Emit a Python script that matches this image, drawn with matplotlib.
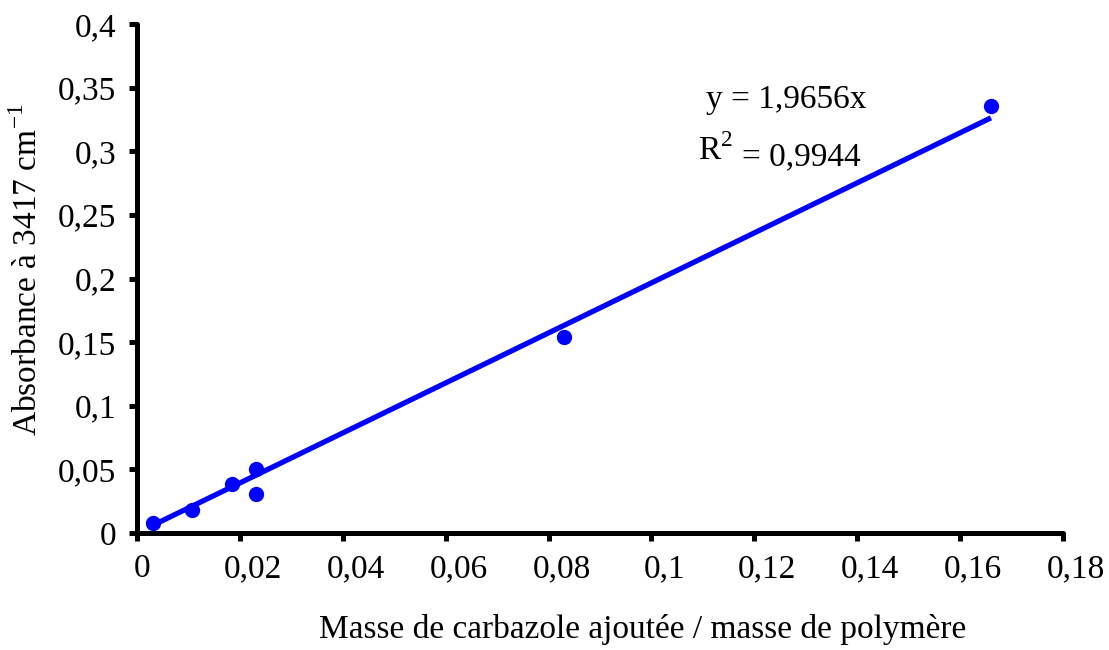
"""
Absorbance at 3417 cm-1 vs. added carbazole mass ratio, with linear fit through origin.
"""

import numpy as np
import matplotlib
matplotlib.use("Agg")
import matplotlib.pyplot as plt
import matplotlib.transforms as mtransforms
from matplotlib.ticker import FuncFormatter, MultipleLocator

plt.rcParams["font.family"] = ["Liberation Serif", "DejaVu Serif"]
plt.rcParams["mathtext.fontset"] = "custom"
plt.rcParams["mathtext.rm"] = "Liberation Serif"

# measured points
mass_ratio = [0.0031, 0.0107, 0.0184, 0.0231, 0.0231, 0.0831, 0.166]
absorbance = [0.0079, 0.018, 0.0385, 0.0503, 0.0306, 0.154, 0.3356]

# linear trendline y = a x
slope = 1.9656
r2 = 0.9944


def comma_fmt(v, pos):
    s = "%g" % round(v, 3)
    return s.replace(".", ",")


fig = plt.figure(figsize=(11.09, 6.5), dpi=100)
ax = fig.add_axes([0.1235, 0.18, 0.835, 0.783])

fit_x = np.array([min(mass_ratio) - 0.001, max(mass_ratio)])
ax.plot(fit_x, slope * fit_x, color="#0000ff", lw=3.8, solid_capstyle="butt", zorder=2)
ax.plot(mass_ratio, absorbance, "o", color="#0000ff", ms=10, zorder=3)

ax.set_xlim(0, 0.18)
ax.set_ylim(0, 0.4)
ax.xaxis.set_major_locator(MultipleLocator(0.02))
ax.yaxis.set_major_locator(MultipleLocator(0.05))
ax.xaxis.set_major_formatter(FuncFormatter(comma_fmt))
ax.yaxis.set_major_formatter(FuncFormatter(comma_fmt))

for side in ["top", "right"]:
    ax.spines[side].set_visible(False)
for side in ["left", "bottom"]:
    ax.spines[side].set_linewidth(3.6)
    ax.spines[side].set_capstyle("round")

ax.tick_params(direction="out", length=6, width=3.6, labelsize=24)
ax.tick_params(axis="y", pad=9)
ax.tick_params(axis="x", pad=9)

# x tick labels sit a bit right of their ticks in the original
fig.canvas.draw()
for lbl in ax.get_xticklabels():
    dx = 0.05 if lbl.get_text() == "0" else 0.13
    shift = mtransforms.ScaledTranslation(dx, 0, fig.dpi_scale_trans)
    lbl.set_transform(lbl.get_transform() + shift)

ax.set_xlabel("Masse de carbazole ajoutée / masse de polymère", fontsize=24)
ax.xaxis.set_label_coords(0.546, -0.16)
ax.set_ylabel("Absorbance à 3417 cm$^{-1}$", fontsize=24)
ax.yaxis.set_label_coords(-0.1, 0.517)

ax.text(0.6145, 0.835, "y = 1,9656x", transform=ax.transAxes, fontsize=24,
        ha="left", va="baseline")
ax.text(0.606, 0.733, "R$^2$", transform=ax.transAxes, fontsize=24,
        ha="left", va="baseline")
ax.text(0.653, 0.723, "= 0,9944", transform=ax.transAxes, fontsize=24,
        ha="left", va="baseline")

fig.savefig("out.png", dpi=100)
